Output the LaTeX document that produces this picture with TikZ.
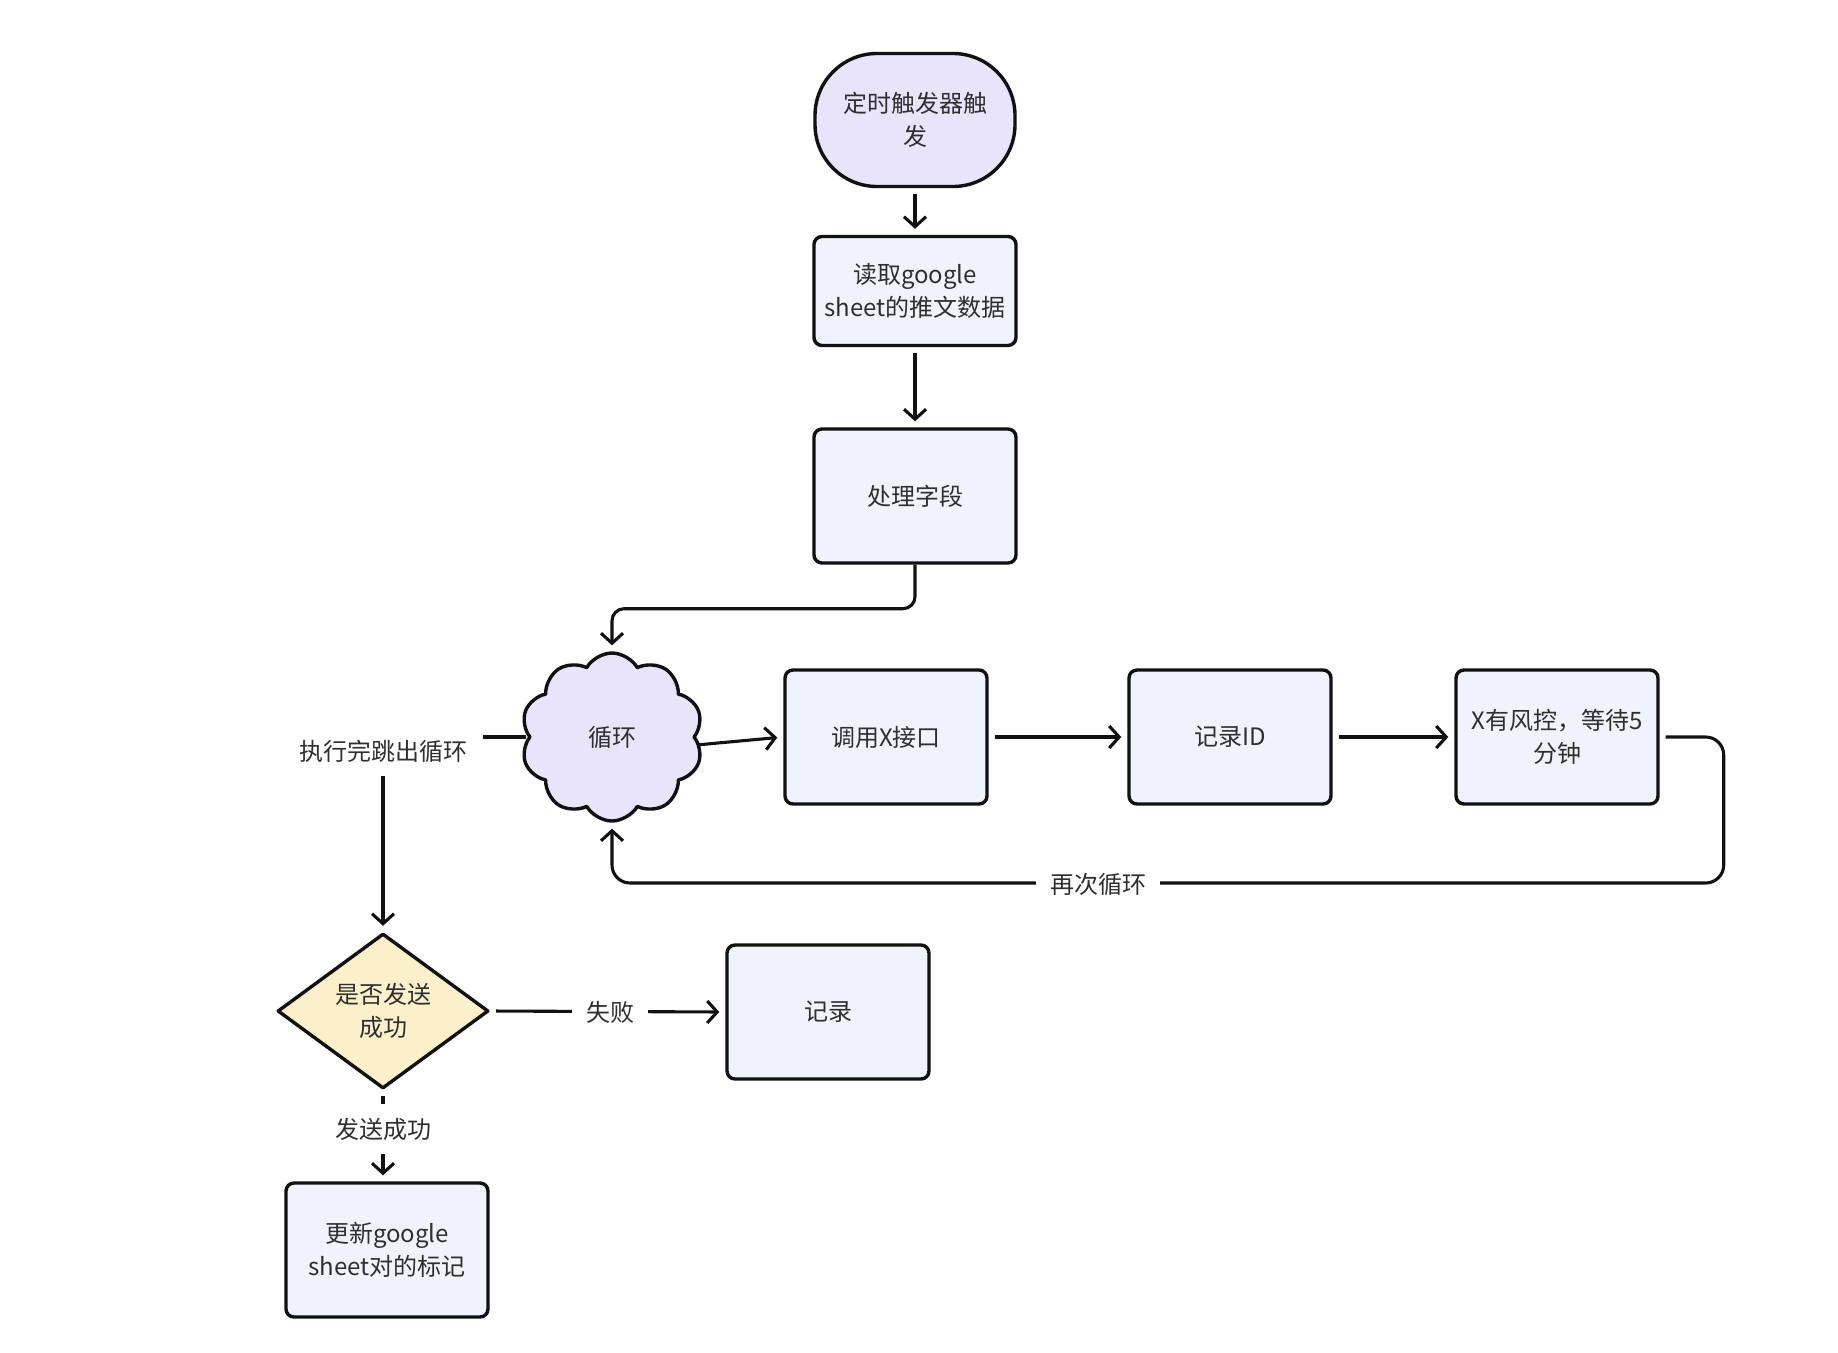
\documentclass[tikz,border=0pt]{standalone}
\usepackage{fontspec}
\setmainfont{Noto Sans CJK SC}
\usetikzlibrary{shapes.geometric,shapes.symbols,arrows.meta,calc}
\definecolor{textc}{HTML}{2F2F2F}
\definecolor{linec}{HTML}{111111}
\definecolor{boxc}{HTML}{EEF3FD}
\definecolor{lavc}{HTML}{EAE3FC}
\definecolor{decc}{HTML}{FCF0CB}
\begin{document}
\begin{tikzpicture}[x=1pt,y=-1pt,
  base/.style={draw=linec, line width=3.4pt, text=textc, font=\fontsize{24}{33}\selectfont, align=center, line join=round},
  procbox/.style={base, fill=boxc, rounded corners=8pt, minimum width=202pt, minimum height=134pt, inner sep=0pt},
  startc/.style={base, fill=lavc, rounded corners=62pt, minimum width=200pt, minimum height=133pt, inner sep=0pt},
  cloudc/.style={base, cloud, cloud puffs=10, cloud puff arc=120, aspect=1.05, fill=lavc, minimum width=182pt, minimum height=168pt, inner sep=0pt},
  decis/.style={base, diamond, fill=decc, minimum width=211pt, minimum height=155pt, inner sep=0pt},
  arr/.style={draw=linec, line width=3.1pt, -{Straight Barb[length=10pt,width=22pt]}, shorten >=6pt, shorten <=6pt},
  lbl/.style={fill=white, text=textc, font=\fontsize{24}{33}\selectfont, inner xsep=14pt, inner ysep=14pt}
]
\useasboundingbox (0,0) rectangle (1838,1352);

\node[startc] (start) at (915,120) {定时触发器触\\发};
\node[procbox, minimum height=109pt] (read) at (915,291) {读取google\\sheet的推文数据};
\node[procbox] (proc) at (915,496) {处理字段};
\node[cloudc] (loop) at (612,737) {\raisebox{-5pt}{循环}};
\node[procbox] (callx) at (886,737) {调用X接口};
\node[procbox] (recid) at (1230,737) {记录ID};
\node[procbox] (risk) at (1557,737) {X有风控，等待5\\分钟};
\node[decis] (dec) at (383,1011) {是否发送\\成功};
\node[procbox] (logn) at (828,1012) {记录};
\node[procbox] (upd) at (387,1250) {更新google\\sheet对的标记};

\draw[arr] (start) -- (read);
\draw[arr] (read) -- (proc);
\draw[arr, rounded corners=12pt, shorten <=0pt] (proc.south) -- ++(0,44) -| (loop.north);
\draw[arr, shorten <=2pt] ($(loop.east)+(0,8)$) -- (callx.west);
\draw[arr] (callx) -- (recid);
\draw[arr] (recid) -- (risk);
\draw[arr, rounded corners=18pt] (risk.east) -- ++(64,0) -- ++(0,146) -| (loop.south);
\node[lbl] (lagain) at (1098,884) {再次循环};
\draw[arr, shorten <=2pt] (loop.west) -| (dec.north);
\node[lbl, inner xsep=16pt] (lexit) at (383,751) {执行完跳出循环};
\draw[arr] (dec.east) -- (logn.west);
\node[lbl] (lfail) at (610,1012) {失败};
\draw[arr] (dec.south) -- (dec.south |- upd.north);
\node[lbl] (lok) at (383,1129) {发送成功};
\end{tikzpicture}
\end{document}
